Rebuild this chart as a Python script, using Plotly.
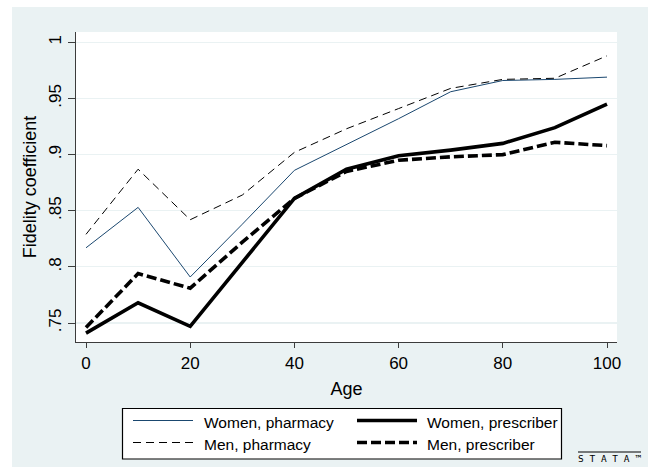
import plotly.graph_objects as go

# ---- data ----
ages = [0, 10, 20, 30, 40, 50, 60, 70, 80, 90, 100]
women_pharmacy = [0.817, 0.853, 0.791, 0.838, 0.886, 0.909, 0.932, 0.956, 0.966, 0.967, 0.969]
men_pharmacy = [0.829, 0.887, 0.842, 0.864, 0.902, 0.923, 0.941, 0.959, 0.967, 0.968, 0.988]
women_prescriber = [0.741, 0.768, 0.747, 0.804, 0.861, 0.887, 0.899, 0.904, 0.910, 0.924, 0.945]
men_prescriber = [0.746, 0.794, 0.781, 0.822, 0.861, 0.885, 0.895, 0.898, 0.900, 0.911, 0.908]

y_ticks = [0.75, 0.8, 0.85, 0.9, 0.95, 1.0]
y_tick_labels = [".75", ".8", ".85", ".9", ".95", "1"]
x_ticks = [0, 20, 40, 60, 80, 100]
names = ["Women, pharmacy", "Women, prescriber", "Men, pharmacy", "Men, prescriber"]

# ---- layout geometry ----
W, H = 648, 467
ML, MR, MT, MB = 76, 31, 32, 125
PW, PH = W - ML - MR, H - MT - MB
FONT = "Liberation Sans, Arial, Helvetica, sans-serif"
BG = "rgb(234,242,243)"


def px(x):
    return (x - ML) / PW


def py(y):
    return (H - MB - y) / PH


styles = {
    "Women, pharmacy": dict(color="rgb(26,71,111)", width=1, dash="solid"),
    "Women, prescriber": dict(color="black", width=3.6, dash="solid"),
    "Men, pharmacy": dict(color="black", width=1, dash="8px,5px"),
    "Men, prescriber": dict(color="black", width=3.6, dash="10px,4px"),
}
values = {
    "Women, pharmacy": women_pharmacy,
    "Women, prescriber": women_prescriber,
    "Men, pharmacy": men_pharmacy,
    "Men, prescriber": men_prescriber,
}

fig = go.Figure()
for n in ["Women, pharmacy", "Men, pharmacy", "Women, prescriber", "Men, prescriber"]:
    fig.add_trace(go.Scatter(x=ages, y=values[n], mode="lines", name=n,
                             line=styles[n], showlegend=False, hoverinfo="skip"))

shapes = [
    # white outer margins (top and left) outside the graph region
    dict(type="rect", xref="paper", yref="paper", x0=px(-5), x1=px(660),
         y0=py(7), y1=py(-5), fillcolor="white", line=dict(width=0), layer="above"),
    dict(type="rect", xref="paper", yref="paper", x0=px(-5), x1=px(12),
         y0=py(480), y1=py(-5), fillcolor="white", line=dict(width=0), layer="above"),
    # legend box
    dict(type="rect", xref="paper", yref="paper", x0=px(122.5), x1=px(561.5),
         y0=py(459), y1=py(408.5), fillcolor="white",
         line=dict(color="black", width=1.2), layer="above"),
    # stata logo overline
    dict(type="line", xref="paper", yref="paper", x0=px(578), x1=px(641),
         y0=py(452), y1=py(452), line=dict(color="black", width=1)),
]

annotations = []
legend_pos = [
    ("Women, pharmacy", 133, 193, 420.5, 203),
    ("Women, prescriber", 357, 417, 420.5, 426),
    ("Men, pharmacy", 133, 193, 442.5, 203),
    ("Men, prescriber", 357, 417, 442.5, 426),
]
for n, lx0, lx1, ly, tx in legend_pos:
    st = styles[n]
    shapes.append(dict(type="line", xref="paper", yref="paper", x0=px(lx0), x1=px(lx1),
                       y0=py(ly), y1=py(ly),
                       line=dict(color=st["color"], width=st["width"], dash=st["dash"])))
    annotations.append(dict(xref="paper", yref="paper", x=px(tx - 1), y=py(ly + 1.5),
                            xanchor="left", yanchor="middle", showarrow=False, text=n,
                            font=dict(family=FONT, size=15.5, color="black")))

annotations.append(dict(xref="paper", yref="paper", x=px(609.5), y=py(458.5),
                        xanchor="center", yanchor="middle", showarrow=False,
                        text="S T A T A ™",
                        font=dict(family="DejaVu Sans Mono", size=9.5, color="black")))

fig.update_layout(
    width=W, height=H,
    margin=dict(l=ML, r=MR, t=MT, b=MB, pad=0),
    paper_bgcolor=BG, plot_bgcolor="white",
    font=dict(family=FONT, color="black"),
    shapes=shapes, annotations=annotations,
    showlegend=False, hovermode=False,
)
fig.update_xaxes(
    range=[-1.92, 101.92], tickvals=x_ticks, ticktext=[str(v) for v in x_ticks],
    showgrid=False, zeroline=False, showline=True, linecolor="rgb(60,60,60)", linewidth=1.2,
    ticks="outside", ticklen=5, tickwidth=1, tickcolor="rgb(60,60,60)",
    tickfont=dict(family=FONT, size=17), ticklabelstandoff=0,
    title=dict(text="Age", font=dict(family=FONT, size=18), standoff=10),
)
fig.update_yaxes(
    range=[0.7331, 1.0092], tickvals=y_ticks, ticktext=y_tick_labels, tickangle=-90,
    showgrid=True, gridcolor=BG, gridwidth=1.2, zeroline=False,
    showline=True, linecolor="rgb(60,60,60)", linewidth=1.2,
    ticks="outside", ticklen=7, tickwidth=1, tickcolor="rgb(60,60,60)",
    tickfont=dict(family=FONT, size=17), ticklabelstandoff=0,
    title=dict(text="Fidelity coefficient", font=dict(family=FONT, size=18), standoff=4),
)

fig.write_html("out.html", config={"displayModeBar": False, "staticPlot": True},
               post_script="document.body.style.margin='0';document.body.style.padding='0';")
